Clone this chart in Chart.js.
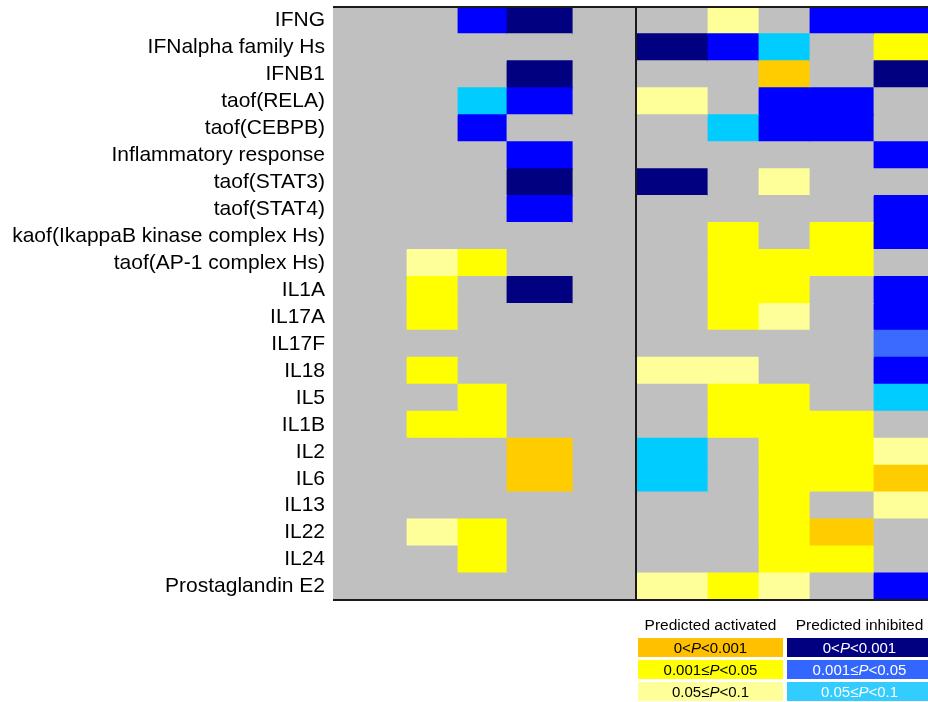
<!DOCTYPE html>
<html>
<head>
<meta charset="utf-8">
<script src="https://cdn.jsdelivr.net/npm/chart.js@4"></script>
<style>
  body { margin: 0; background: #fff; font-family: Arial, "Liberation Sans", sans-serif; }
  #wrap { position: relative; width: 928px; height: 702px; overflow: hidden; }
  .hdr { position: absolute; top: 616px; font-size: 15.5px; color: #000; text-align: center; white-space: nowrap; }
  .box { position: absolute; height: 19px; line-height: 19px; font-size: 15px; text-align: center; white-space: nowrap; }
</style>
</head>
<body>
<div id="wrap">
  <canvas id="heat" width="928" height="702"></canvas>
  <div class="hdr" style="left:638px;width:145px">Predicted activated</div>
  <div class="hdr" style="left:787px;width:145px">Predicted inhibited</div>
  <div class="box" style="left:638px;width:145px;top:638px;background:#ffc000;color:#000">0&lt;<i>P</i>&lt;0.001</div>
  <div class="box" style="left:638px;width:145px;top:660px;background:#ffff00;color:#000">0.001≤<i>P</i>&lt;0.05</div>
  <div class="box" style="left:638px;width:145px;top:682px;background:#ffff99;color:#000">0.05≤<i>P</i>&lt;0.1</div>
  <div class="box" style="left:787px;width:145px;top:638px;background:#000080;color:#fff">0&lt;<i>P</i>&lt;0.001</div>
  <div class="box" style="left:787px;width:145px;top:660px;background:#3366ff;color:#fff">0.001≤<i>P</i>&lt;0.05</div>
  <div class="box" style="left:787px;width:145px;top:682px;background:#33ccff;color:#fff">0.05≤<i>P</i>&lt;0.1</div>
</div>
<script>
// row labels (top to bottom)
const rowLabels = [
  "IFNG", "IFNalpha family Hs", "IFNB1", "taof(RELA)", "taof(CEBPB)",
  "Inflammatory response", "taof(STAT3)", "taof(STAT4)",
  "kaof(IkappaB kinase complex Hs)", "taof(AP-1 complex Hs)",
  "IL1A", "IL17A", "IL17F", "IL18", "IL5", "IL1B", "IL2", "IL6",
  "IL13", "IL22", "IL24", "Prostaglandin E2"
];

// column edges: 5 columns in left panel, 5 in right panel
const colEdges = [0, 73, 124, 173, 239, 303, 374, 425, 476, 540, 604];
const panelSplit = 303;
const xMax = 595;

// one code per column for each row
// . none, L/Y/O activated (weak->strong), C/R/B/N inhibited
const cellCodes = [
  "..BN..L.BB",
  ".....NBC.Y",
  "...N...O.N",
  "..CB.L.BB.",
  "..B...CBB.",
  "...B.....B",
  "...N.N.L..",
  "...B.....B",
  "......Y.YB",
  ".LY...YYY.",
  ".Y.N..YY.B",
  ".Y....YL.B",
  ".........R",
  ".Y...LL..B",
  "..Y...YY.C",
  ".YY...YYY.",
  "...O.C.YYL",
  "...O.C.YYO",
  ".......Y.L",
  ".LY....YO.",
  "..Y....YY.",
  ".....LYL.B"
];

const codeColors = {
  ".": "#c0c0c0",
  "L": "#ffff99",
  "Y": "#ffff00",
  "O": "#ffcc00",
  "C": "#00ccff",
  "R": "#3a6aff",
  "B": "#0000ff",
  "N": "#000080"
};

const datasets = [];
for (let c = 0; c < colEdges.length - 1; c++) {
  datasets.push({
    data: rowLabels.map(() => [colEdges[c], colEdges[c + 1]]),
    backgroundColor: cellCodes.map(s => codeColors[s[c]]),
    borderWidth: 0,
    inflateAmount: 0.6,
    grouped: false,
    categoryPercentage: 1,
    barPercentage: 1
  });
}

const frameLines = {
  id: "frameLines",
  afterDatasetsDraw(chart) {
    const ctx = chart.ctx;
    const a = chart.chartArea;
    const sx = chart.scales.x.getPixelForValue(panelSplit);
    ctx.save();
    ctx.strokeStyle = "#1a1a1a";
    ctx.lineWidth = 2;
    ctx.beginPath();
    ctx.moveTo(a.left, a.top); ctx.lineTo(a.right, a.top);
    ctx.moveTo(a.left, a.bottom); ctx.lineTo(a.right, a.bottom);
    ctx.moveTo(sx, a.top); ctx.lineTo(sx, a.bottom);
    ctx.stroke();
    ctx.restore();
  }
};

new Chart(document.getElementById("heat"), {
  type: "bar",
  data: { labels: rowLabels, datasets: datasets },
  options: {
    indexAxis: "y",
    responsive: false,
    animation: false,
    layout: { padding: { top: 7, bottom: 102, left: 0, right: 0 } },
    plugins: { legend: { display: false }, tooltip: { enabled: false } },
    scales: {
      x: { type: "linear", min: 0, max: xMax, display: false },
      y: {
        grid: { display: false },
        border: { display: false },
        ticks: {
          color: "#000",
          padding: 0,
          autoSkip: false,
          font: { family: "Arial, 'Liberation Sans', sans-serif", size: 21 }
        },
        afterFit(scale) {
          scale.width = 333;
          scale.paddingTop = 0;
          scale.paddingBottom = 0;
        }
      }
    }
  },
  plugins: [frameLines]
});
</script>
</body>
</html>
